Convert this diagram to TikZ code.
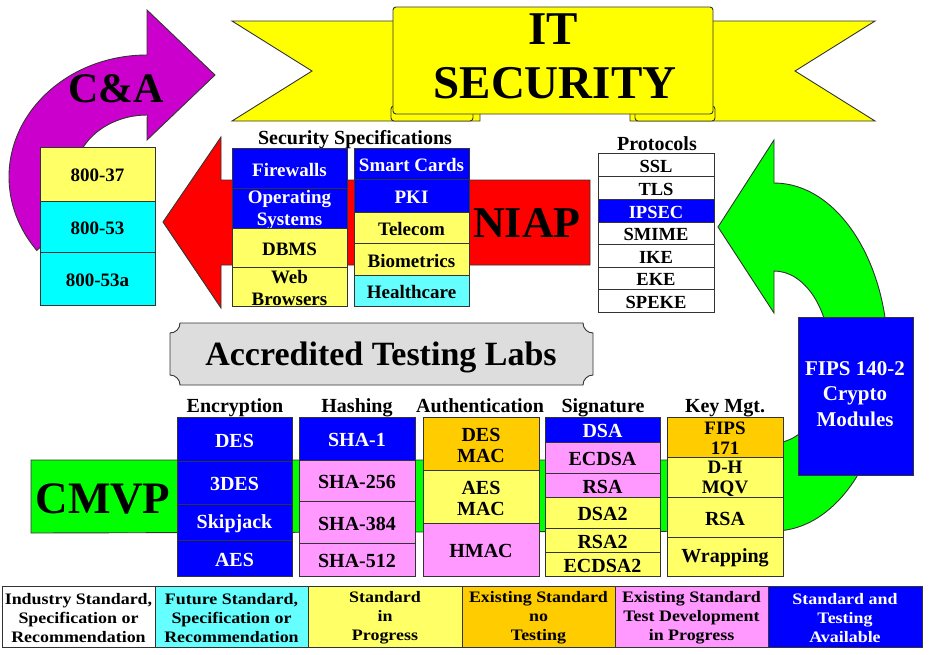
\documentclass[tikz,border=0pt]{standalone}
\usepackage{fontspec}
\setmainfont{Liberation Serif}
\newfontfamily\legendfont{Liberation Serif}[FakeStretch=1.12]
\newcommand\tsz[2]{\fontsize{#1}{#2}\selectfont}
\definecolor{cblue}{HTML}{0000FF}
\definecolor{cyel}{HTML}{FFFF66}
\definecolor{ccyan}{HTML}{00FFFF}
\definecolor{clcyan}{HTML}{66FFFF}
\definecolor{corange}{HTML}{FFCC00}
\definecolor{cpink}{HTML}{FF99FF}
\definecolor{cgreen}{HTML}{00FF00}
\definecolor{cred}{HTML}{FF0000}
\definecolor{cmag}{HTML}{CC00CC}
\definecolor{cbanner}{HTML}{FFFF00}
\definecolor{cgray}{HTML}{DDDDDD}
\tikzset{
  outl/.style={draw=black!80, line width=0.9pt, line join=miter},
  bigtxt/.style={anchor=base, inner sep=0pt, font={\tsz{#1}{#1}\bfseries}},
  lbl/.style={anchor=base, inner sep=0pt, font={\tsz{20}{22}\bfseries}},
}
% name, x1, y1, x2, y2, fill, text colour, text
\newcommand\cellbox[8]{%
  \draw[outl, fill=#6] (#2,#3) rectangle (#4,#5);
  \node[text=#7, align=center, inner sep=0pt, yshift=-1.5pt] (#1) at ({(#2+#4)/2},{(#3+#5)/2}) {#8};}
\begin{document}
\begin{tikzpicture}[x=1pt, y=-1pt]
\useasboundingbox[fill=white] (0,0) rectangle (929,654);

% ---------- banner ----------
\draw[outl, fill=cbanner] (232,21) -- (480,21) -- (480,121) -- (232,121) -- (312,71) -- cycle;
\draw[outl, fill=cbanner] (630,21) -- (875,21) -- (795,71) -- (875,121) -- (630,121) -- cycle;
\draw[outl, fill=cbanner, rounded corners=3pt] (391,106) rectangle (473,121);
\draw[outl, fill=cbanner, rounded corners=3pt] (635,106) rectangle (715,121);
\draw[outl, fill=cbanner, rounded corners=3pt] (393,7) rectangle (713,114);
\node[bigtxt=47] (it) at (553,44) {IT};
\node[bigtxt=47] (sec) at (555,98) {SECURITY};

% ---------- C&A ----------
\draw[outl, fill=cmag] (147,55) arc[start angle=-90, end angle=-217, x radius=138, y radius=122]
  -- (84,208) arc[start angle=-210, end angle=-90, x radius=73, y radius=62]
  -- (147,140) -- (215,75) -- (147,10) -- cycle;
\node[bigtxt=42] (ca) at (116,102) {C\&A};
\begin{scope}[every node/.append style={font={\tsz{19}{21}\bfseries}}]
\cellbox{ca1}{40}{147}{155}{201}{cyel}{black}{800-37}
\cellbox{ca2}{40}{201}{155}{252}{ccyan}{black}{800-53}
\cellbox{ca3}{40}{252}{155}{305}{ccyan}{black}{800-53a}
\end{scope}

% ---------- NIAP ----------
\draw[outl, fill=cred] (163,222) -- (221,137) -- (221,180) -- (590,180) -- (590,265)
  -- (221,265) -- (221,308) -- cycle;
\node[bigtxt=44] (niap) at (527,237) {NIAP};
\node[lbl] (seclbl) at (355,144) {Security Specifications};
\begin{scope}[every node/.append style={font={\tsz{19}{22}\bfseries}}]
\cellbox{fw}{232}{148}{347}{188}{cblue}{white}{Firewalls}
\cellbox{os}{232}{188}{347}{228}{cblue}{white}{Operating\\Systems}
\cellbox{dbms}{232}{228}{347}{267}{cyel}{black}{DBMS}
\cellbox{web}{232}{267}{347}{306}{cyel}{black}{Web\\Browsers}
\cellbox{sc}{354}{148}{469}{179}{cblue}{white}{Smart Cards}
\cellbox{pki}{354}{179}{469}{212}{cblue}{white}{PKI}
\cellbox{tel}{354}{212}{469}{243}{cyel}{black}{Telecom}
\cellbox{bio}{354}{243}{469}{275}{cyel}{black}{Biometrics}
\cellbox{hc}{354}{275}{469}{306}{clcyan}{black}{Healthcare}
\end{scope}

% ---------- Protocols ----------
\node[lbl] (protlbl) at (657,150) {Protocols};
\begin{scope}[every node/.append style={font={\tsz{18.5}{20}\bfseries}}]
\cellbox{ssl}{598}{153}{714}{176}{white}{black}{SSL}
\cellbox{tls}{598}{176}{714}{199}{white}{black}{TLS}
\cellbox{ipsec}{598}{199}{714}{222}{cblue}{white}{IPSEC}
\cellbox{smime}{598}{222}{714}{244}{white}{black}{SMIME}
\cellbox{ike}{598}{244}{714}{267}{white}{black}{IKE}
\cellbox{eke}{598}{267}{714}{289}{white}{black}{EKE}
\cellbox{speke}{598}{289}{714}{312}{white}{black}{SPEKE}
\end{scope}

% ---------- CMVP / FIPS green arrow ----------
\draw[outl, fill=cgreen] (31,533) -- (774,531)
  arc[start angle=90, end angle=-90, x radius=114, y radius=174]
  -- (774,140) -- (718,227) -- (774,313) -- (774,271)
  arc[start angle=-90, end angle=90, x radius=56, y radius=86]
  -- (774,460) -- (31,460) -- cycle;
\node[bigtxt=45] (cmvp) at (103,513) {CMVP};
\draw[outl, fill=cblue] (798,317) rectangle (913,475);
\node[align=center, inner sep=0pt, text=white, font={\tsz{21}{25.5}\bfseries}] (fips) at (855,394) {FIPS 140-2\\Crypto\\Modules};

% ---------- Accredited Testing Labs ----------
\draw[outl, fill=cgray] (180,323) -- (583,323) arc[start angle=180, end angle=90, radius=10]
  -- (593,375) arc[start angle=-90, end angle=-180, radius=10]
  -- (180,385) arc[start angle=0, end angle=-90, radius=10]
  -- (170,333) arc[start angle=90, end angle=0, radius=10] -- cycle;
\node[bigtxt=34] (atl) at (381,365) {Accredited Testing Labs};

% ---------- columns ----------
\node[lbl] (enclbl) at (235,412) {Encryption};
\node[lbl] (hashlbl) at (357,412) {Hashing};
\node[lbl] (authlbl) at (480,412) {Authentication};
\node[lbl] (siglbl) at (603,412) {Signature};
\node[lbl] (keylbl) at (725,412) {Key Mgt.};
\begin{scope}[every node/.append style={font={\tsz{20}{21}\bfseries}}]
\cellbox{des}{177}{417}{292}{461}{cblue}{white}{DES}
\cellbox{tdes}{177}{461}{292}{504}{cblue}{white}{3DES}
\cellbox{skip}{177}{504}{292}{540}{cblue}{white}{Skipjack}
\cellbox{aes}{177}{540}{292}{576}{cblue}{white}{AES}
\cellbox{sha1}{299}{417}{415}{460}{cblue}{white}{SHA-1}
\cellbox{sha256}{299}{460}{415}{501}{cpink}{black}{SHA-256}
\cellbox{sha384}{299}{501}{415}{543}{cpink}{black}{SHA-384}
\cellbox{sha512}{299}{543}{415}{576}{cpink}{black}{SHA-512}
\cellbox{desmac}{423}{417}{539}{470}{corange}{black}{DES\\MAC}
\cellbox{aesmac}{423}{470}{539}{523}{cyel}{black}{AES\\MAC}
\cellbox{hmac}{423}{523}{539}{576}{cpink}{black}{HMAC}
\cellbox{dsa}{545}{417}{660}{442}{cblue}{white}{DSA}
\cellbox{ecdsa}{545}{442}{660}{473}{cpink}{black}{ECDSA}
\cellbox{rsa}{545}{473}{660}{497}{cpink}{black}{RSA}
\cellbox{dsa2}{545}{497}{660}{528}{cyel}{black}{DSA2}
\cellbox{rsa2}{545}{528}{660}{552}{cyel}{black}{RSA2}
\cellbox{ecdsa2}{545}{552}{660}{576}{cyel}{black}{ECDSA2}
\cellbox{wrap}{667}{537}{783}{576}{cyel}{black}{Wrapping}
\cellbox{krsa}{667}{497}{783}{537}{cyel}{black}{RSA}
\end{scope}
\begin{scope}[every node/.append style={font={\tsz{19}{20}\bfseries}}]
\cellbox{fips171}{667}{417}{783}{457}{corange}{black}{FIPS\\171}
\cellbox{dh}{667}{457}{783}{497}{cyel}{black}{D-H\\MQV}
\end{scope}

% ---------- legend ----------
\begin{scope}[every node/.append style={font={\legendfont\tsz{16}{19}\bfseries}}]
\cellbox{lg1}{2}{586}{155}{647}{white}{black}{Industry Standard,\\Specification or\\Recommendation}
\cellbox{lg2}{155}{586}{308}{647}{clcyan}{black}{Future Standard,\\Specification or\\Recommendation}
\cellbox{lg3}{308}{586}{462}{647}{cyel}{black}{Standard\\in\\Progress}
\cellbox{lg4}{462}{586}{615}{647}{corange}{black}{Existing Standard\\no\\Testing}
\cellbox{lg5}{615}{586}{768}{647}{cpink}{black}{Existing Standard\\Test Development\\in Progress}
\cellbox{lg6}{768}{586}{922}{647}{cblue}{white}{Standard and\\Testing\\Available}
\end{scope}
\end{tikzpicture}
\end{document}
